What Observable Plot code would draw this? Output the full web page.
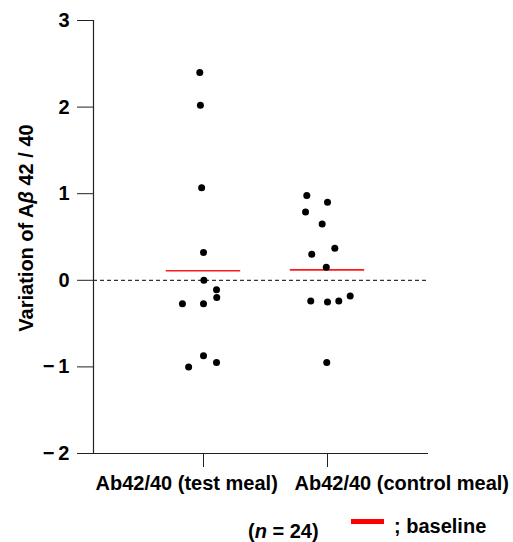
<!DOCTYPE html>
<html>
<head>
<meta charset="utf-8">
<script src="https://cdn.jsdelivr.net/npm/d3@7"></script>
<script src="https://cdn.jsdelivr.net/npm/@observablehq/plot@0.6"></script>
<style>
  body { margin: 0; background: #fff; }
  svg { font-family: "Liberation Sans", Arial, sans-serif; }
</style>
</head>
<body>
<div id="chart"></div>
<script>
// Categories
const categories = ["Ab42/40 (test meal)", "Ab42/40 (control meal)"];
// Individual variations
const testValues = [2.40, 2.02, 1.07, 0.32, 0.00, -0.11, -0.20, -0.27, -0.27, -0.87, -0.95, -1.00];
const testJitter = [-0.03, -0.025, -0.015, 0, 0.003, 0.105, 0.107, -0.17, 0, 0, 0.105, -0.12];
const controlValues = [0.98, 0.90, 0.79, 0.65, 0.37, 0.30, 0.15, -0.24, -0.25, -0.24, -0.18, -0.95];
const controlJitter = [-0.167, 0, -0.177, -0.043, 0.059, -0.127, -0.01, -0.135, 0, 0.091, 0.183, -0.006];
// Baseline means
const baselines = [0.11, 0.12];
const yTicks = [-2, -1, 0, 1, 2, 3];
const legendN = "24";

const points = [
  ...testValues.map((v, i) => ({cat: 1, x: 1 + testJitter[i], y: v})),
  ...controlValues.map((v, i) => ({cat: 2, x: 2 + controlJitter[i], y: v}))
];
const baseRows = baselines.map((b, i) => ({x1: i + 1 - 0.3, x2: i + 1 + 0.3, y: b}));

const xDomain = [0.1129, 2.8145];
const yDomain = [-2, 3];
const fmtY = d => d < 0 ? "\u2212\u2009" + (-d) : String(d);

const chart = Plot.plot({
  width: 513,
  height: 542,
  marginTop: 20,
  marginBottom: 89,
  marginLeft: 93,
  marginRight: 85,
  style: {fontFamily: "'Liberation Sans', Arial, sans-serif", background: "#fff"},
  x: {type: "linear", domain: xDomain, axis: null},
  y: {domain: yDomain, axis: null},
  marks: [
    Plot.ruleY([0], {stroke: "#333", strokeWidth: 1.2, strokeDasharray: "4,3"}),
    Plot.ruleX([xDomain[0]], {stroke: "#222", strokeWidth: 1.2}),
    Plot.ruleY([yDomain[0]], {stroke: "#222", strokeWidth: 1.2}),
    Plot.axisY({ticks: yTicks, tickFormat: fmtY, tickSize: 16, tickPadding: 8, fontSize: 20, fontWeight: "bold", stroke: "#222", fill: "#000", label: null}),
    Plot.axisX({ticks: [1, 2], tickFormat: () => "", tickSize: 14, label: null, stroke: "#222"}),
    Plot.axisX({ticks: [1], tickFormat: () => categories[0], tickSize: 0, tickPadding: 22, fontSize: 20, fontWeight: "bold", textAnchor: "start", dx: -108, label: null, fill: "#000"}),
    Plot.axisX({ticks: [2], tickFormat: () => categories[1], tickSize: 0, tickPadding: 22, fontSize: 20, fontWeight: "bold", textAnchor: "start", dx: -33, label: null, fill: "#000"}),
    Plot.ruleY(baseRows, {x1: "x1", x2: "x2", y: "y", stroke: "#ff1a1a", strokeWidth: 1.6}),
    Plot.dot(points, {x: "x", y: "y", r: 3.5, fill: "#000", stroke: "none"})
  ]
});

const svg = d3.select(chart.tagName.toLowerCase() === "svg" ? chart : chart.querySelector("svg"));

// Y axis title
const yt = svg.append("text")
  .attr("transform", "translate(26,228) rotate(-90)")
  .attr("text-anchor", "middle")
  .attr("dominant-baseline", "central")
  .attr("font-size", 20)
  .attr("font-weight", "bold")
  .attr("fill", "#000");
yt.append("tspan").text("Variation of A");
yt.append("tspan").attr("font-style", "italic").text("\u03B2");
yt.append("tspan").text(" 42 / 40");

// n annotation
const nt = svg.append("text")
  .attr("x", 248).attr("y", 538)
  .attr("text-anchor", "start")
  .attr("font-size", 20).attr("font-weight", "bold").attr("fill", "#000");
nt.append("tspan").text("(");
nt.append("tspan").attr("font-style", "italic").text("n");
nt.append("tspan").text(" = " + legendN + ")");

// baseline legend
svg.append("rect").attr("x", 351).attr("y", 519).attr("width", 33).attr("height", 5).attr("fill", "#ff0000");
svg.append("text").attr("x", 394).attr("y", 533)
  .attr("text-anchor", "start")
  .attr("font-size", 20).attr("font-weight", "bold").attr("fill", "#000")
  .text("; baseline");

document.getElementById("chart").appendChild(chart);
</script>
</body>
</html>
